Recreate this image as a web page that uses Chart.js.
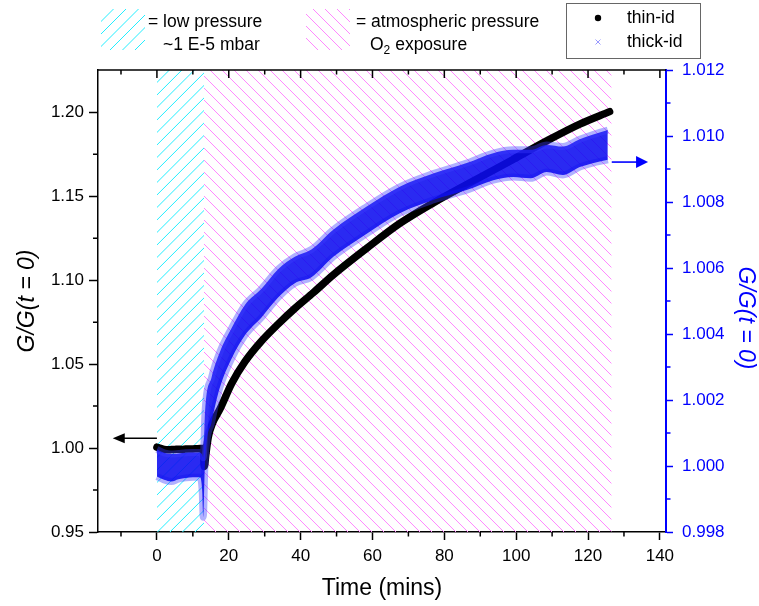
<!DOCTYPE html>
<html><head><meta charset="utf-8">
<script src="https://cdn.jsdelivr.net/npm/chart.js@4.4.1/dist/chart.umd.min.js"></script>
<style>html,body{margin:0;padding:0;background:#fff;}#wrap{width:759px;height:606px;position:relative;}</style>
</head><body><div id="wrap"><canvas id="c" width="759" height="606"></canvas></div>
<script>
// ---- tick labels ----
const xTickLabels = ['0','20','40','60','80','100','120','140'];
const xMinorTicks = [-10,10,30,50,70,90,110,130];
const yLeftTickLabels = ['0.95','1.00','1.05','1.10','1.15','1.20'];
const yLeftMinorTicks = [0.975,1.025,1.075,1.125,1.175];
const yRightTickLabels = ['0.998','1.000','1.002','1.004','1.006','1.008','1.010','1.012'];
const yRightMinorTicks = [0.999,1.001,1.003,1.005,1.007,1.009,1.011];

// ---- thin-id (left axis) ----
const thinT = [0,1,2,3,4,5,6,7,8,9,10,11,12,12.9,13.2,13.6,14.3,15.5,17.5,20.8,24.5,29,33.8,38.4,43.5,49,58.4,67.6,76.9,86.2,94.5,99.2,108.5,117.7,126];
const thinG = [1.0005,0.9998,0.9992,0.9990,0.9991,0.9992,0.9993,0.9992,0.9994,0.9995,0.9995,0.9996,0.9997,0.9998,0.9890,0.9960,1.0066,1.0150,1.0230,1.0385,1.0515,1.0635,1.0740,1.0832,1.0925,1.1030,1.1190,1.1338,1.1460,1.1570,1.1665,1.1720,1.1830,1.1930,1.2004];

// ---- thick-id (right axis): upper and lower edge of the scattered band ----
const thickT    = [0,2,4,6,8,10,12,12.6,12.9,13.4,15.2,17.5,20.8,24.5,29.1,33.8,38.4,43,49.1,58.4,67.6,76.9,86.2,93.6,99.2,104,108.5,113,117.7,121,125.5];
const thickHigh = [1.00050,1.00040,1.00036,1.00038,1.00040,1.00041,1.00041,1.00034,1.00025,1.00165,1.00268,1.00345,1.00418,1.00488,1.00537,1.00597,1.00634,1.00656,1.00716,1.00786,1.00846,1.00886,1.00918,1.00948,1.00958,1.00958,1.00973,1.00968,1.00990,1.01003,1.01018];
const thickLow  = [0.99968,0.99958,0.99953,0.99960,0.99964,0.99966,0.99966,0.99925,0.99845,1.00015,1.00132,1.00237,1.00326,1.00396,1.00450,1.00511,1.00554,1.00572,1.00634,1.00704,1.00766,1.00806,1.00836,1.00866,1.00876,1.00872,1.00891,1.00882,1.00906,1.00917,1.00928];

// ---- shaded time ranges (mins) and arrows ----
const lowPressureRange = [0, 13.1];
const atmosphericRange = [13.1, 126.5];
const leftArrow = {from: 0, to: -12.3, y: 1.0058};
const rightArrow = {from: 126.6, to: 136.7, y: 1.00921};

const FONT = '"Liberation Sans", Arial, Helvetica, sans-serif';
const BLUE = '#0000ff';
const CYAN = '#22eeff';
const PINK = '#ff88ff';

function hatch(ctx, x0, y0, x1, y1, color, spacing, dir) {
  ctx.save();
  ctx.beginPath(); ctx.rect(x0, y0, x1 - x0, y1 - y0); ctx.clip();
  ctx.strokeStyle = color; ctx.lineWidth = 1;
  const h = y1 - y0;
  ctx.beginPath();
  for (let s = x0 - h - spacing; s < x1 + spacing; s += spacing) {
    if (dir > 0) { ctx.moveTo(s, y1); ctx.lineTo(s + h, y0); }
    else { ctx.moveTo(s, y0); ctx.lineTo(s + h, y1); }
  }
  ctx.stroke();
  ctx.restore();
}
function arrow(ctx, x0, y, x1, color, headLen, headHalf) {
  const d = Math.sign(x1 - x0);
  ctx.save();
  ctx.strokeStyle = color; ctx.fillStyle = color; ctx.lineWidth = 1.6;
  ctx.beginPath(); ctx.moveTo(x0, y); ctx.lineTo(x1 - d * headLen * 0.8, y); ctx.stroke();
  ctx.beginPath(); ctx.moveTo(x1, y); ctx.lineTo(x1 - d * headLen, y - headHalf); ctx.lineTo(x1 - d * headLen, y + headHalf); ctx.closePath(); ctx.fill();
  ctx.restore();
}

const decor = {
  id: 'decor',
  beforeDatasetsDraw(chart) {
    const {ctx, chartArea: a, scales: {x}} = chart;
    hatch(ctx, x.getPixelForValue(lowPressureRange[0]), a.top, x.getPixelForValue(lowPressureRange[1]), a.bottom, CYAN, 12.5, 1);
    hatch(ctx, x.getPixelForValue(atmosphericRange[0]), a.top, x.getPixelForValue(atmosphericRange[1]), a.bottom, PINK, 12, -1);
  },
  afterDraw(chart) {
    const {ctx, chartArea: a, scales: {x, y, y2}} = chart;
    ctx.save();
    // minor ticks
    ctx.lineWidth = 1.5; ctx.strokeStyle = '#000';
    ctx.beginPath();
    xMinorTicks.forEach(v => { const p = x.getPixelForValue(v); ctx.moveTo(p, a.bottom); ctx.lineTo(p, a.bottom + 4.5); });
    yLeftMinorTicks.forEach(v => { const p = y.getPixelForValue(v); ctx.moveTo(a.left, p); ctx.lineTo(a.left - 5, p); });
    ctx.stroke();
    // top axis with inward ticks
    ctx.beginPath(); ctx.moveTo(a.left, a.top); ctx.lineTo(a.right, a.top); ctx.stroke();
    ctx.beginPath();
    xTickLabels.forEach(l => { const p = x.getPixelForValue(parseFloat(l)); ctx.moveTo(p, a.top); ctx.lineTo(p, a.top + 8); });
    xMinorTicks.forEach(v => { const p = x.getPixelForValue(v); ctx.moveTo(p, a.top); ctx.lineTo(p, a.top + 4.5); });
    ctx.stroke();
    ctx.strokeStyle = BLUE;
    ctx.beginPath();
    yRightMinorTicks.forEach(v => { const p = y2.getPixelForValue(v); ctx.moveTo(a.right, p); ctx.lineTo(a.right + 4.5, p); });
    ctx.stroke();
    ctx.restore();

    // right axis title
    ctx.save();
    ctx.translate(745, 318); ctx.rotate(Math.PI / 2);
    ctx.font = 'italic 23px ' + FONT; ctx.fillStyle = BLUE;
    ctx.textAlign = 'center'; ctx.textBaseline = 'middle';
    ctx.fillText('G/G(t = 0)', 0, 0);
    ctx.restore();

    // arrows
    arrow(ctx, x.getPixelForValue(leftArrow.from), y.getPixelForValue(leftArrow.y), x.getPixelForValue(leftArrow.to), '#000', 12, 5);
    arrow(ctx, x.getPixelForValue(rightArrow.from), y2.getPixelForValue(rightArrow.y), x.getPixelForValue(rightArrow.to), BLUE, 12, 6);

    // top legends (hatched patches)
    hatch(ctx, 101, 9, 145, 50, CYAN, 12.5, 1);
    hatch(ctx, 306, 9, 350, 50, PINK, 12, -1);
    ctx.save();
    ctx.fillStyle = '#000'; ctx.textBaseline = 'middle'; ctx.textAlign = 'left';
    ctx.font = '17.5px ' + FONT;
    ctx.fillText('= low pressure', 148, 22);
    ctx.fillText('~1 E-5 mbar', 163, 45);
    ctx.fillText('= atmospheric pressure', 356, 22);
    ctx.fillText('O', 370, 45);
    let w = ctx.measureText('O').width;
    ctx.font = '12px ' + FONT;
    ctx.fillText('2', 370 + w, 51);
    const w2 = ctx.measureText('2').width;
    ctx.font = '17.5px ' + FONT;
    ctx.fillText(' exposure', 370 + w + w2, 45);

    // series legend box
    ctx.strokeStyle = '#666'; ctx.lineWidth = 1;
    ctx.strokeRect(566.5, 3.5, 134, 55);
    ctx.fillStyle = '#000';
    ctx.beginPath(); ctx.arc(598, 18, 3.2, 0, Math.PI * 2); ctx.fill();
    ctx.strokeStyle = '#9a9aff'; ctx.lineWidth = 1;
    ctx.beginPath(); ctx.moveTo(595.5, 39.5); ctx.lineTo(600.5, 44.5); ctx.moveTo(600.5, 39.5); ctx.lineTo(595.5, 44.5); ctx.stroke();
    ctx.fillStyle = '#000'; ctx.font = '17.5px ' + FONT;
    ctx.fillText('thin-id', 627, 18);
    ctx.fillText('thick-id', 627, 42);
    ctx.restore();
  }
};

const tickFont = {family: FONT, size: 17};
const titleFont = {family: FONT, size: 23};

new Chart(document.getElementById('c'), {
  type: 'line',
  data: {
    datasets: [
      { label: 'thick-id', data: thickT.map((t, i) => ({x: t, y: thickHigh[i]})), yAxisID: 'y2',
        borderColor: 'rgba(60,60,255,0.4)', borderWidth: 7, pointRadius: 0, fill: '+1',
        backgroundColor: 'rgba(12,12,240,0.88)', cubicInterpolationMode: 'monotone' },
      { label: 'thick-id low', data: thickT.map((t, i) => ({x: t, y: thickLow[i]})), yAxisID: 'y2',
        borderColor: 'rgba(60,60,255,0.4)', borderWidth: 7, pointRadius: 0, fill: false,
        cubicInterpolationMode: 'monotone' },
      { label: 'thin-id', data: thinT.map((t, i) => ({x: t, y: thinG[i]})), yAxisID: 'y',
        borderColor: '#000', borderWidth: 7.5, pointRadius: 0, fill: false,
        borderCapStyle: 'round', borderJoinStyle: 'round', cubicInterpolationMode: 'monotone' }
    ]
  },
  options: {
    responsive: false, animation: false, devicePixelRatio: 1,
    layout: {padding: {top: 70, left: 0, right: 0, bottom: 0}},
    plugins: {legend: {display: false}, tooltip: {enabled: false}},
    scales: {
      x: {
        type: 'linear', position: 'bottom', min: -16.4, max: 141.7,
        afterBuildTicks: s => { s.ticks = xTickLabels.map(l => ({value: parseFloat(l)})); },
        afterFit: s => { s.height = 74; },
        ticks: {callback: (v, i) => xTickLabels[i], font: tickFont, color: '#000', padding: 6, maxRotation: 0, autoSkip: false},
        grid: {drawOnChartArea: false, drawTicks: true, tickLength: 8, tickColor: '#000', tickWidth: 1.5},
        border: {color: '#000', width: 1.5},
        title: {display: true, text: 'Time (mins)', font: titleFont, color: '#000', padding: {top: 0, bottom: 4}}
      },
      y: {
        type: 'linear', position: 'left', min: 0.95, max: 1.2252,
        afterBuildTicks: s => { s.ticks = yLeftTickLabels.map(l => ({value: parseFloat(l)})); },
        afterFit: s => { s.width = 98; },
        ticks: {callback: (v, i) => yLeftTickLabels[i], font: tickFont, color: '#000', padding: 5, autoSkip: false},
        grid: {drawOnChartArea: false, drawTicks: true, tickLength: 9, tickColor: '#000', tickWidth: 1.5},
        border: {color: '#000', width: 1.5},
        title: {display: true, text: 'G/G(t = 0)', font: {family: FONT, size: 23, style: 'italic'}, color: '#000', padding: {top: 14, bottom: 0}}
      },
      y2: {
        type: 'linear', position: 'right', min: 0.998, max: 1.012,
        afterBuildTicks: s => { s.ticks = yRightTickLabels.map(l => ({value: parseFloat(l)})); },
        afterFit: s => { s.width = 93; },
        ticks: {callback: (v, i) => yRightTickLabels[i], font: tickFont, color: BLUE, padding: 9, autoSkip: false},
        grid: {drawOnChartArea: false, drawTicks: true, tickLength: 7, tickColor: BLUE, tickWidth: 1.5},
        border: {color: BLUE, width: 2},
        title: {display: false, text: 'G/G(t = 0)'}
      }
    }
  },
  plugins: [decor]
});
</script></body></html>
